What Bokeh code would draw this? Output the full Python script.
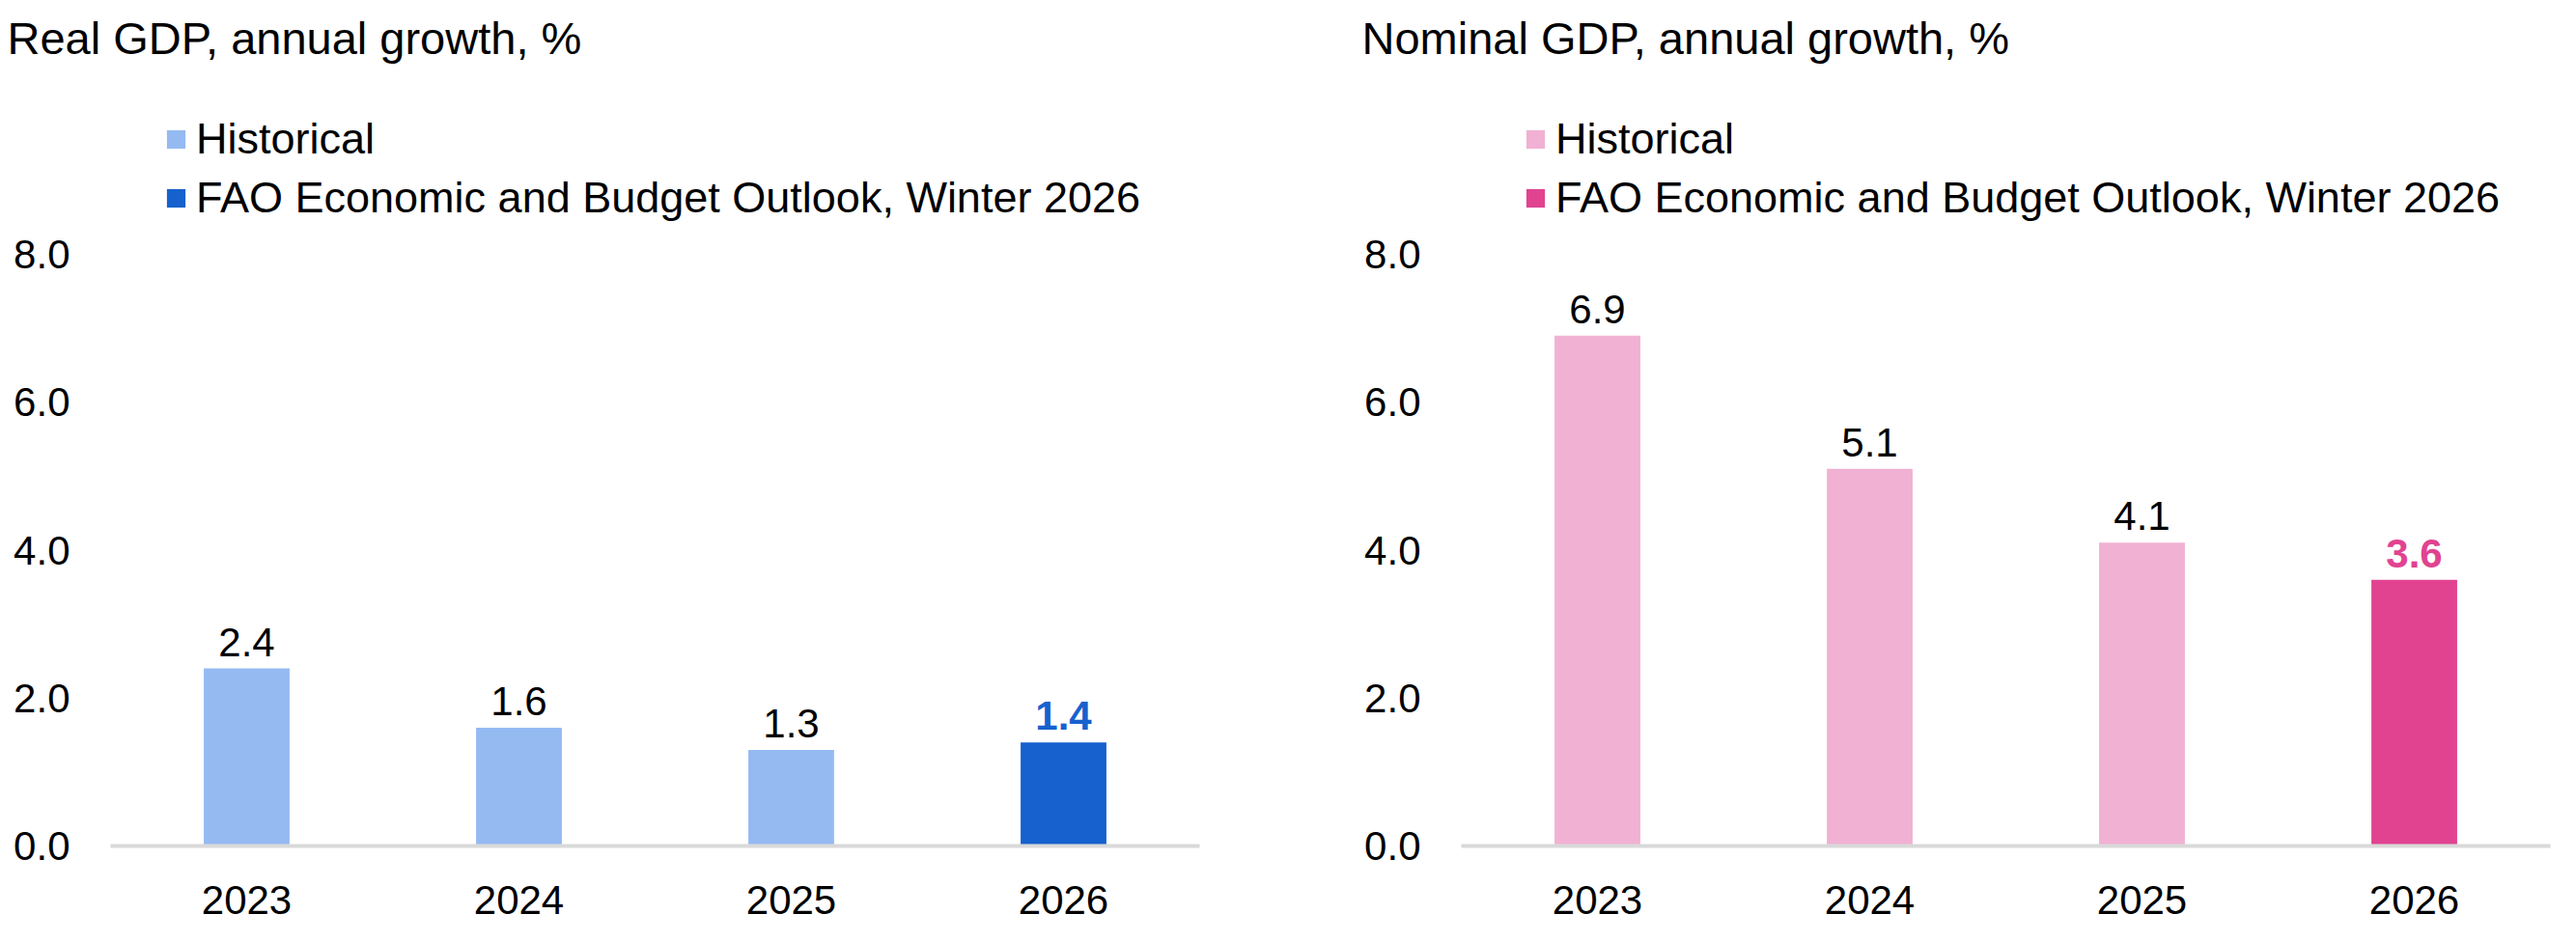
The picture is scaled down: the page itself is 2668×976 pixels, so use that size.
import numpy as np
from bokeh.plotting import figure
from bokeh.models import (ColumnDataSource, FactorRange, Range1d, FixedTicker,
                          PrintfTickFormatter, LabelSet, Legend, LegendItem)
from bokeh.layouts import row, column
from bokeh.core.properties import value
from bokeh.embed import file_html
from bokeh.resources import INLINE

# ---------------- data ----------------
years = ["2023", "2024", "2025", "2026"]
real_gdp = [2.4, 1.6, 1.3, 1.4]
nominal_gdp = [6.9, 5.1, 4.1, 3.6]
n_historical = 3
y_ticks = [0, 2, 4, 6, 8]
legend_hist = "Historical"
legend_fc = "FAO Economic and Budget Outlook, Winter 2026"
title_real = "Real GDP, annual growth, %"
title_nominal = "Nominal GDP, annual growth, %"

FONT = "Liberation Sans"
HEADER_H = 237
TITLE_STANDOFF = 20
TITLE_PANEL = 76   # approx. height taken by the title panel


def make_header(width, title, hist_color, fc_color, title_offset, legend_x):
    fh = HEADER_H - TITLE_PANEL
    h = figure(x_range=Range1d(0, width), y_range=Range1d(0, fh),
               frame_width=width, frame_height=fh, min_border=0,
               x_axis_type=None, y_axis_type=None,
               output_backend="svg", toolbar_location=None,
               outline_line_color=None)
    h.xgrid.visible = False
    h.ygrid.visible = False
    h.title.text = title
    h.title.align = "left"
    h.title.offset = title_offset
    h.title.standoff = TITLE_STANDOFF
    h.title.text_font = FONT
    h.title.text_font_size = "47px"
    h.title.text_font_style = "normal"
    h.title.text_color = "black"
    h.title.vertical_align = "bottom"

    # legend proxies (no visible marks, used only for legend swatches)
    proxy = ColumnDataSource(dict(x=np.array([np.nan]), y=np.array([np.nan])))
    r_hist = h.vbar(x="x", top="y", width=1, source=proxy,
                    fill_color=hist_color, line_color=None)
    r_fc = h.vbar(x="x", top="y", width=1, source=proxy,
                  fill_color=fc_color, line_color=None)

    legend = Legend(items=[LegendItem(label=legend_hist, renderers=[r_hist]),
                           LegendItem(label=legend_fc, renderers=[r_fc])],
                    location=(legend_x - 2, 5), orientation="vertical",
                    glyph_width=24, glyph_height=24, label_standoff=9,
                    label_text_font=FONT, label_text_font_size="45px",
                    label_text_color="black", spacing=9, padding=0, margin=0,
                    border_line_color=None, background_fill_alpha=0)
    h.add_layout(legend, "center")
    return h


def make_chart(vals, hist_color, fc_color, border_left, border_right):
    p = figure(x_range=FactorRange(factors=years), y_range=Range1d(0, 8),
               frame_width=1128, frame_height=613,
               min_border_left=border_left, min_border_right=border_right,
               min_border_top=27, min_border_bottom=95,
               output_backend="svg", toolbar_location=None,
               outline_line_color=None, background_fill_color="white",
               border_fill_color="white")

    hist_src = ColumnDataSource(dict(x=years[:n_historical], y=vals[:n_historical],
                                     lab=["%.1f" % v for v in vals[:n_historical]]))
    fc_src = ColumnDataSource(dict(x=years[n_historical:], y=vals[n_historical:],
                                   lab=["%.1f" % v for v in vals[n_historical:]]))

    p.vbar(x="x", top="y", width=0.315, source=hist_src,
           fill_color=hist_color, line_color=None)
    p.vbar(x="x", top="y", width=0.315, source=fc_src,
           fill_color=fc_color, line_color=None)

    p.add_layout(LabelSet(x="x", y="y", text="lab", source=hist_src,
                          text_align="center", text_baseline="alphabetic",
                          y_offset=13, text_color="black", text_font=value(FONT),
                          text_font_size="42px"))
    p.add_layout(LabelSet(x="x", y="y", text="lab", source=fc_src,
                          text_align="center", text_baseline="alphabetic",
                          y_offset=13, text_color=fc_color, text_font=value(FONT),
                          text_font_size="42px", text_font_style="bold"))

    p.xgrid.visible = False
    p.ygrid.visible = False
    xa = p.xaxis[0]
    xa.axis_line_color = "#D9D9D9"
    xa.axis_line_width = 4
    xa.major_tick_line_color = None
    xa.minor_tick_line_color = None
    xa.major_label_text_font = FONT
    xa.major_label_text_font_size = "42px"
    xa.major_label_text_color = "black"
    xa.major_label_standoff = 41
    xa.major_tick_out = 0

    ya = p.yaxis[0]
    ya.ticker = FixedTicker(ticks=y_ticks)
    ya.formatter = PrintfTickFormatter(format="%.1f")
    ya.axis_line_color = None
    ya.major_tick_line_color = None
    ya.minor_tick_line_color = None
    ya.major_tick_out = 0
    ya.major_label_text_font = FONT
    ya.major_label_text_font_size = "42px"
    ya.major_label_text_color = "black"
    ya.major_label_standoff = 42
    return p


h1 = make_header(1334, title_real, "#95BAF2", "#1661CE", -107, 172)
p1 = make_chart(real_gdp, "#95BAF2", "#1661CE", 114, 92)
h2 = make_header(1326, title_nominal, "#F1B1D3", "#E14391", -103, 246)
p2 = make_chart(nominal_gdp, "#F1B1D3", "#E14391", 179, 19)

layout = row(column(h1, p1), column(h2, p2))
open("out.html", "w").write(file_html(layout, INLINE))
